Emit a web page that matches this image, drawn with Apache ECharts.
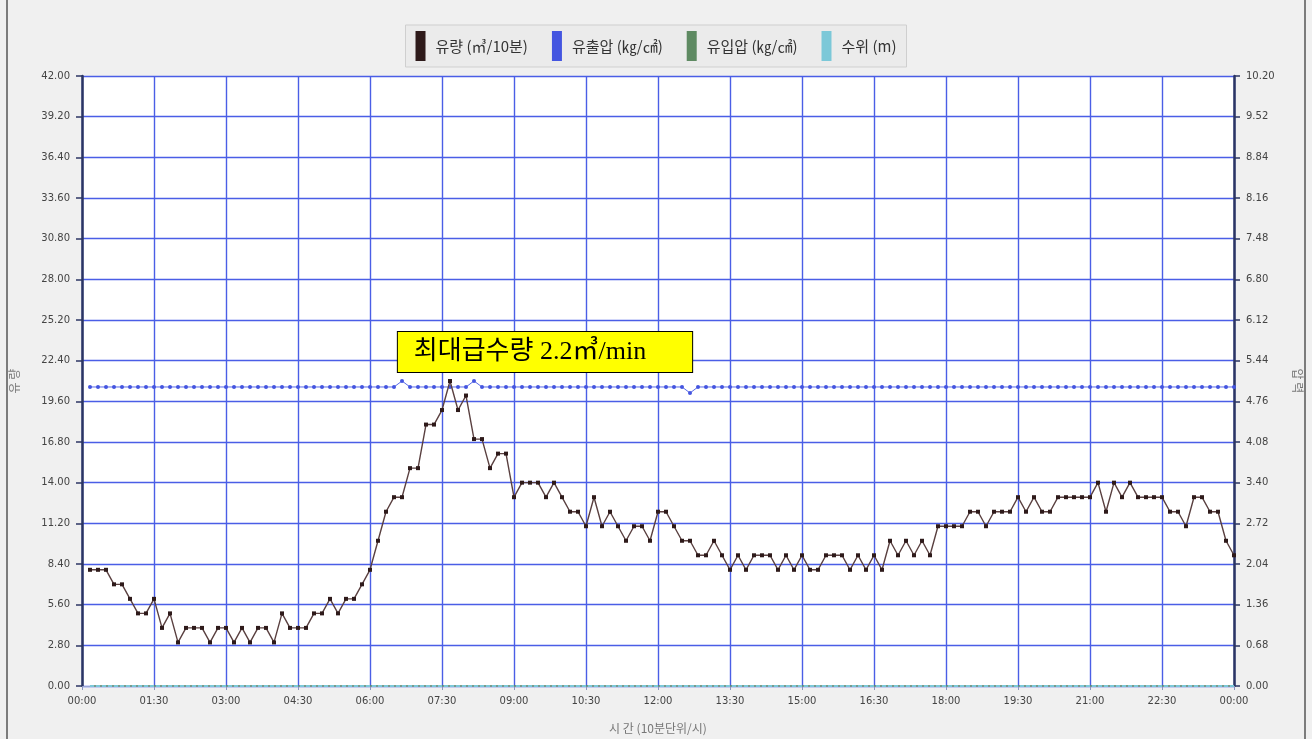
<!DOCTYPE html>
<html>
<head>
<meta charset="utf-8">
<script src="https://cdn.jsdelivr.net/npm/echarts@6/dist/echarts.min.js"></script>
<style>
  html, body { margin: 0; padding: 0; background: #f0f0f0; }
  #chart { width: 1312px; height: 739px; }
</style>
</head>
<body>
<div id="chart"></div>
<script>
// 10분 단위 (00:10 ~ 24:00, 144개)
const tickLabels = ['00:00', '01:30', '03:00', '04:30', '06:00', '07:30', '09:00', '10:30', '12:00',
  '13:30', '15:00', '16:30', '18:00', '19:30', '21:00', '22:30', '00:00']

// 유량 (㎥/10분)
const flow = [
  8, 8, 8, 7, 7, 6, 5, 5, 6, 4, 5, 3, 4, 4, 4, 3, 4, 4, 3, 4, 3, 4, 4, 3,
  5, 4, 4, 4, 5, 5, 6, 5, 6, 6, 7, 8, 10, 12, 13, 13, 15, 15, 18, 18, 19, 21, 19, 20,
  17, 17, 15, 16, 16, 13, 14, 14, 14, 13, 14, 13, 12, 12, 11, 13, 11, 12, 11, 10, 11, 11, 10, 12,
  12, 11, 10, 10, 9, 9, 10, 9, 8, 9, 8, 9, 9, 9, 8, 9, 8, 9, 8, 8, 9, 9, 9, 8,
  9, 8, 9, 8, 10, 9, 10, 9, 10, 9, 11, 11, 11, 11, 12, 12, 11, 12, 12, 12, 13, 12, 13, 12,
  12, 13, 13, 13, 13, 13, 14, 12, 14, 13, 14, 13, 13, 13, 13, 12, 12, 11, 13, 13, 12, 12, 10, 9
]

// 유출압 (kg/㎠)
const outletPressure = [
  5.0, 5.0, 5.0, 5.0, 5.0, 5.0, 5.0, 5.0, 5.0, 5.0, 5.0, 5.0, 5.0, 5.0, 5.0, 5.0, 5.0, 5.0, 5.0, 5.0, 5.0, 5.0, 5.0, 5.0,
  5.0, 5.0, 5.0, 5.0, 5.0, 5.0, 5.0, 5.0, 5.0, 5.0, 5.0, 5.0, 5.0, 5.0, 5.0, 5.1, 5.0, 5.0, 5.0, 5.0, 5.0, 5.0, 5.0, 5.0,
  5.1, 5.0, 5.0, 5.0, 5.0, 5.0, 5.0, 5.0, 5.0, 5.0, 5.0, 5.0, 5.0, 5.0, 5.0, 5.0, 5.0, 5.0, 5.0, 5.0, 5.0, 5.0, 5.0, 5.0,
  5.0, 5.0, 5.0, 4.9, 5.0, 5.0, 5.0, 5.0, 5.0, 5.0, 5.0, 5.0, 5.0, 5.0, 5.0, 5.0, 5.0, 5.0, 5.0, 5.0, 5.0, 5.0, 5.0, 5.0,
  5.0, 5.0, 5.0, 5.0, 5.0, 5.0, 5.0, 5.0, 5.0, 5.0, 5.0, 5.0, 5.0, 5.0, 5.0, 5.0, 5.0, 5.0, 5.0, 5.0, 5.0, 5.0, 5.0, 5.0,
  5.0, 5.0, 5.0, 5.0, 5.0, 5.0, 5.0, 5.0, 5.0, 5.0, 5.0, 5.0, 5.0, 5.0, 5.0, 5.0, 5.0, 5.0, 5.0, 5.0, 5.0, 5.0, 5.0, 5.0
]

// 유입압 (kg/㎠)
const inletPressure = [
  0, 0, 0, 0, 0, 0, 0, 0, 0, 0, 0, 0, 0, 0, 0, 0, 0, 0, 0, 0, 0, 0, 0, 0,
  0, 0, 0, 0, 0, 0, 0, 0, 0, 0, 0, 0, 0, 0, 0, 0, 0, 0, 0, 0, 0, 0, 0, 0,
  0, 0, 0, 0, 0, 0, 0, 0, 0, 0, 0, 0, 0, 0, 0, 0, 0, 0, 0, 0, 0, 0, 0, 0,
  0, 0, 0, 0, 0, 0, 0, 0, 0, 0, 0, 0, 0, 0, 0, 0, 0, 0, 0, 0, 0, 0, 0, 0,
  0, 0, 0, 0, 0, 0, 0, 0, 0, 0, 0, 0, 0, 0, 0, 0, 0, 0, 0, 0, 0, 0, 0, 0,
  0, 0, 0, 0, 0, 0, 0, 0, 0, 0, 0, 0, 0, 0, 0, 0, 0, 0, 0, 0, 0, 0, 0, 0
]

// 수위 (m)
const waterLevel = [
  0, 0, 0, 0, 0, 0, 0, 0, 0, 0, 0, 0, 0, 0, 0, 0, 0, 0, 0, 0, 0, 0, 0, 0,
  0, 0, 0, 0, 0, 0, 0, 0, 0, 0, 0, 0, 0, 0, 0, 0, 0, 0, 0, 0, 0, 0, 0, 0,
  0, 0, 0, 0, 0, 0, 0, 0, 0, 0, 0, 0, 0, 0, 0, 0, 0, 0, 0, 0, 0, 0, 0, 0,
  0, 0, 0, 0, 0, 0, 0, 0, 0, 0, 0, 0, 0, 0, 0, 0, 0, 0, 0, 0, 0, 0, 0, 0,
  0, 0, 0, 0, 0, 0, 0, 0, 0, 0, 0, 0, 0, 0, 0, 0, 0, 0, 0, 0, 0, 0, 0, 0,
  0, 0, 0, 0, 0, 0, 0, 0, 0, 0, 0, 0, 0, 0, 0, 0, 0, 0, 0, 0, 0, 0, 0, 0
]

const peakIndex = 45
const peakLabel = '최대급수량 2.2㎥/min'

// 분 단위 x 값 (00:10부터 10분 간격)
const toPoints = arr => arr.map((v, i) => [(i + 1) * 10, v])

const gridColor = '#4a5ee6'
const labelStyle = { color: '#444', fontSize: 10, fontFamily: 'DejaVu Sans' }

const chartDom = echarts.init(document.getElementById('chart'))
chartDom.setOption({
  backgroundColor: '#f0f0f0',
  animation: false,
  textStyle: { fontFamily: 'Noto Sans CJK KR' },
  graphic: [{
    type: 'rect',
    shape: { x: 7, y: -5, width: 1298, height: 760 },
    style: { fill: 'none', stroke: '#555', lineWidth: 1.5 },
    silent: true
  }],
  legend: {
    top: 25,
    left: 'center',
    backgroundColor: '#ebebeb',
    borderColor: '#cfcfcf',
    borderWidth: 1,
    padding: [6, 10, 6, 10],
    itemGap: 24,
    itemWidth: 10,
    itemHeight: 30,
    icon: 'rect',
    textStyle: { color: '#333', fontSize: 15, fontFamily: 'Noto Sans CJK KR', padding: [0, 0, 0, 5] },
    data: ['유량 (㎥/10분)', '유출압 (㎏/㎠)', '유입압 (㎏/㎠)', '수위 (m)']
  },
  grid: {
    left: 80,
    right: 77,
    top: 76,
    bottom: 51,
    show: true,
    backgroundColor: '#fff',
    borderWidth: 0
  },
  xAxis: {
    type: 'value',
    min: 0,
    max: 1440,
    interval: 90,
    name: '시 간 (10분단위/시)',
    nameLocation: 'middle',
    nameGap: 36,
    nameTextStyle: { color: '#777', fontSize: 12 },
    axisLine: { show: true, lineStyle: { color: '#9aa6d6', width: 1 } },
    axisTick: { show: true, length: 4, lineStyle: { color: '#8a94c0' } },
    axisLabel: {
      ...labelStyle,
      margin: 10,
      formatter: v => tickLabels[Math.round(v / 90)]
    },
    splitLine: { show: true, lineStyle: { color: gridColor, width: 1.4 } }
  },
  yAxis: [
    {
      type: 'value',
      min: 0,
      max: 42,
      interval: 2.8,
      name: '유 량',
      nameLocation: 'middle',
      nameGap: 62,
      nameTextStyle: { color: '#777', fontSize: 12 },
      axisLine: { show: true, lineStyle: { color: '#2b3563', width: 2.5 } },
      axisTick: { show: true, length: 6, lineStyle: { color: '#2b3563', width: 1.5 } },
      axisLabel: { ...labelStyle, margin: 12, formatter: v => v.toFixed(2) },
      splitLine: { show: true, lineStyle: { color: gridColor, width: 1.4 } }
    },
    {
      type: 'value',
      min: 0,
      max: 10.2,
      interval: 0.68,
      name: '압 력',
      nameLocation: 'middle',
      nameGap: 58,
      nameRotate: -90,
      nameTextStyle: { color: '#777', fontSize: 12 },
      axisLine: { show: true, lineStyle: { color: '#2b3563', width: 2.5 } },
      axisTick: { show: true, length: 6, lineStyle: { color: '#2b3563', width: 1.5 } },
      axisLabel: { ...labelStyle, margin: 12, formatter: v => v.toFixed(2) },
      splitLine: { show: false }
    }
  ],
  series: [
    {
      name: '유량 (㎥/10분)',
      type: 'line',
      yAxisIndex: 0,
      data: toPoints(flow),
      symbol: 'rect',
      symbolSize: 4,
      z: 4,
      lineStyle: { color: '#5a4040', width: 1.4 },
      itemStyle: { color: '#2e1a1a' },
      color: '#4a2326',
      markPoint: {
        symbol: 'circle',
        symbolSize: 1,
        itemStyle: { color: 'rgba(0,0,0,0)' },
        label: {
          show: true,
          position: 'inside',
          offset: [95, -29],
          formatter: peakLabel,
          color: '#000',
          fontSize: 26,
          fontFamily: 'Liberation Serif, Noto Sans CJK KR',
          backgroundColor: '#ffff00',
          borderColor: '#000',
          borderWidth: 1,
          padding: [7, 46, 7, 16]
        },
        data: [{ coord: [(peakIndex + 1) * 10, flow[peakIndex]] }]
      }
    },
    {
      name: '유출압 (㎏/㎠)',
      type: 'line',
      yAxisIndex: 1,
      data: toPoints(outletPressure),
      symbol: 'circle',
      symbolSize: 4,
      z: 3,
      lineStyle: { color: '#5a6ae8', width: 1 },
      itemStyle: { color: '#4455e0' },
      color: '#4a5ae8'
    },
    {
      name: '유입압 (㎏/㎠)',
      type: 'line',
      yAxisIndex: 1,
      data: toPoints(inletPressure),
      symbol: 'none',
      z: 2,
      lineStyle: { color: '#5e8a62', width: 1.5 },
      color: '#5e8a62'
    },
    {
      name: '수위 (m)',
      type: 'line',
      yAxisIndex: 1,
      data: toPoints(waterLevel),
      symbol: 'none',
      z: 5,
      lineStyle: { color: '#7cc8d8', width: 2, type: [4, 2] },
      color: '#7cc8d8'
    }
  ]
})
</script>
</body>
</html>
